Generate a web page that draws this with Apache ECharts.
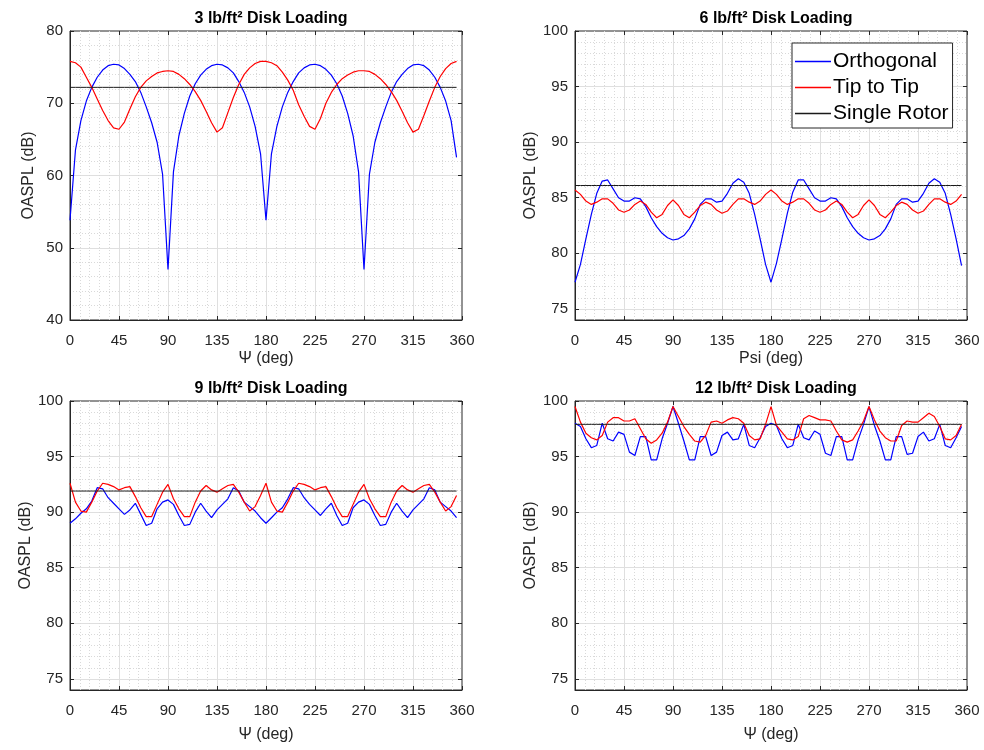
<!DOCTYPE html>
<html>
<head>
<meta charset="utf-8">
<script src="https://cdn.jsdelivr.net/npm/echarts@6/dist/echarts.min.js"></script>
<style>
  html, body { margin: 0; padding: 0; background: #ffffff; }
  #chart { width: 984px; height: 750px; }
</style>
</head>
<body>
<div id="chart"></div>
<script>
// Azimuth angle of the observer (deg)
const psiDeg = [
  0, 5, 10, 15, 20, 25, 30, 35, 40, 45, 50, 55, 60, 65, 70, 75, 80, 85,
  90, 95, 100, 105, 110, 115, 120, 125, 130, 135, 140, 145, 150, 155, 160, 165, 170, 175,
  180, 185, 190, 195, 200, 205, 210, 215, 220, 225, 230, 235, 240, 245, 250, 255, 260, 265,
  270, 275, 280, 285, 290, 295, 300, 305, 310, 315, 320, 325, 330, 335, 340, 345, 350, 355
];

const seriesNames = ['Orthogonal', 'Tip to Tip', 'Single Rotor'];
const panelTitles = ['3 lb/ft² Disk Loading', '6 lb/ft² Disk Loading', '9 lb/ft² Disk Loading', '12 lb/ft² Disk Loading'];
const xAxisNames = ['\u03A8 (deg)', 'Psi (deg)', '\u03A8 (deg)', '\u03A8 (deg)'];
const yAxisName = 'OASPL (dB)';

// OASPL (dB), 3 lb/ft^2
const ortho3 = [
  53.8, 63.5, 67.6, 70.3, 72.2, 73.6, 74.6, 75.2, 75.4, 75.3, 74.8, 74.0, 73.0, 71.5, 69.5, 67.3, 64.6, 60.2,
  47.0, 60.5, 65.5, 68.6, 71.0, 72.7, 73.9, 74.7, 75.2, 75.4, 75.3, 74.9, 74.2, 73.0, 71.5, 69.5, 66.8, 63.0,
  53.8, 63.0, 66.8, 69.5, 71.5, 73.0, 74.2, 74.9, 75.3, 75.4, 75.2, 74.7, 73.9, 72.7, 71.0, 68.6, 65.5, 60.5,
  47.0, 60.2, 64.6, 67.3, 69.5, 71.5, 73.0, 74.0, 74.8, 75.3, 75.4, 75.2, 74.6, 73.6, 72.2, 70.3, 67.6, 62.5
];
const tip3 = [
  75.8, 75.6, 75.0, 73.6, 72.2, 70.6, 69.0, 67.6, 66.6, 66.4, 67.4, 69.2, 70.9, 72.2, 73.1, 73.7, 74.2, 74.4,
  74.5, 74.4, 74.0, 73.4, 72.6, 71.6, 70.4, 68.9, 67.3, 66.0, 66.6, 68.7, 70.8, 72.6, 74.0, 74.9, 75.5, 75.8,
  75.8, 75.6, 75.2, 74.3, 73.2, 71.8, 69.8, 68.2, 66.8, 66.4, 67.9, 70.0, 71.5, 72.6, 73.4, 73.9, 74.3, 74.5,
  74.5, 74.4, 74.0, 73.4, 72.6, 71.6, 70.4, 68.9, 67.3, 66.0, 66.4, 68.3, 70.3, 72.2, 73.7, 74.8, 75.5, 75.8
];
const single3 = 72.2;

// OASPL (dB), 6 lb/ft^2
const ortho6 = [
  77.4, 79.0, 81.3, 83.5, 85.4, 86.5, 86.6, 85.8, 85.0, 84.7, 84.7, 85.0, 84.9, 84.2, 83.2, 82.4, 81.8, 81.4,
  81.2, 81.3, 81.6, 82.2, 83.1, 84.4, 84.9, 84.9, 84.6, 84.7, 85.4, 86.3, 86.7, 86.4, 85.4, 83.5, 81.3, 79.0,
  77.4, 79.1, 81.3, 83.6, 85.5, 86.6, 86.6, 85.8, 85.0, 84.7, 84.7, 85.0, 84.9, 84.2, 83.2, 82.4, 81.8, 81.4,
  81.2, 81.3, 81.6, 82.2, 83.1, 84.4, 84.9, 84.9, 84.6, 84.7, 85.4, 86.3, 86.7, 86.4, 85.4, 83.5, 81.3, 78.9
];
const tip6 = [
  85.7, 85.3, 84.7, 84.4, 84.6, 84.9, 84.9, 84.5, 83.9, 83.7, 83.9, 84.4, 84.7, 84.4, 83.7, 83.2, 83.5, 84.3,
  84.8, 84.3, 83.5, 83.2, 83.7, 84.3, 84.6, 84.4, 83.9, 83.6, 83.8, 84.4, 84.9, 84.9, 84.6, 84.4, 84.7, 85.3,
  85.7, 85.3, 84.7, 84.4, 84.6, 84.9, 84.9, 84.5, 83.9, 83.7, 83.9, 84.4, 84.7, 84.4, 83.7, 83.2, 83.5, 84.3,
  84.8, 84.3, 83.5, 83.2, 83.7, 84.3, 84.6, 84.4, 83.9, 83.6, 83.8, 84.4, 84.9, 84.9, 84.6, 84.4, 84.7, 85.3
];
const single6 = 86.1;

// OASPL (dB), 9 lb/ft^2
const ortho9 = [
  89.0, 89.4, 89.9, 90.3, 91.0, 92.2, 92.1, 91.3, 90.8, 90.3, 89.8, 90.2, 90.8, 89.8, 88.8, 89.0, 90.3, 90.9,
  91.1, 90.7, 89.7, 88.8, 88.9, 90.0, 90.8, 90.1, 89.5, 90.2, 90.7, 91.2, 92.2, 91.9, 90.9, 90.5, 90.1, 89.5,
  89.0, 89.5, 90.0, 90.4, 91.2, 92.2, 92.1, 91.3, 90.7, 90.2, 89.7, 90.3, 90.8, 89.7, 88.8, 89.0, 90.4, 90.9,
  91.1, 90.7, 89.7, 88.8, 88.9, 90.0, 90.8, 90.1, 89.5, 90.2, 90.7, 91.2, 92.2, 92.0, 90.9, 90.5, 90.1, 89.5
];
const tip9 = [
  92.6, 90.9, 90.1, 90.0, 90.9, 91.9, 92.6, 92.5, 92.3, 92.0, 92.2, 92.3, 91.4, 90.4, 89.6, 89.6, 90.7, 91.8,
  92.5, 91.2, 90.3, 89.6, 89.6, 90.9, 91.9, 92.4, 92.0, 91.8, 92.1, 92.4, 92.5, 91.8, 90.9, 90.1, 90.5, 91.5,
  92.6, 90.9, 90.1, 90.0, 90.9, 91.9, 92.6, 92.5, 92.3, 92.0, 92.2, 92.3, 91.4, 90.4, 89.6, 89.6, 90.7, 91.8,
  92.5, 91.2, 90.3, 89.6, 89.6, 90.9, 91.9, 92.4, 92.0, 91.8, 92.1, 92.4, 92.5, 91.8, 90.9, 90.1, 90.5, 91.5
];
const single9 = 91.9;

// OASPL (dB), 12 lb/ft^2
const ortho12 = [
  98.0, 97.7, 96.6, 95.8, 96.0, 98.0, 96.6, 96.4, 97.2, 97.0, 95.4, 95.1, 96.8, 96.8, 94.7, 94.7, 96.6, 98.0,
  99.5, 98.0, 96.4, 94.7, 94.7, 96.8, 96.8, 95.1, 95.4, 96.9, 97.2, 96.5, 96.6, 97.9, 96.0, 95.8, 96.7, 97.7,
  98.0, 97.8, 96.6, 95.8, 96.0, 97.9, 96.7, 96.5, 97.3, 97.0, 95.3, 95.1, 96.8, 96.8, 94.7, 94.7, 96.5, 97.9,
  99.5, 97.8, 96.4, 94.7, 94.7, 96.8, 96.8, 95.2, 95.3, 96.8, 97.2, 96.4, 96.6, 97.9, 96.0, 95.8, 96.7, 97.7
];
const tip12 = [
  99.5, 98.1, 97.1, 96.7, 96.5, 96.9, 98.1, 98.5, 98.5, 98.2, 98.2, 98.4, 97.5, 96.6, 96.2, 96.5, 97.1, 98.1,
  99.5, 98.6, 97.7, 97.0, 96.4, 96.3, 96.9, 98.1, 98.2, 98.0, 98.3, 98.5, 98.4, 98.0, 96.9, 96.5, 96.6, 97.9,
  99.5, 97.8, 97.2, 96.6, 96.5, 96.8, 98.4, 98.7, 98.5, 98.3, 98.3, 98.2, 97.3, 96.5, 96.3, 96.5, 97.3, 98.2,
  99.5, 98.3, 97.3, 96.7, 96.4, 96.4, 97.8, 98.2, 98.1, 98.1, 98.5, 98.9, 98.6, 97.7, 96.6, 96.5, 96.9, 97.9
];
const single12 = 97.9;

// Axis ranges
const xRange = { min: 0, max: 360, step: 45 };
const yRange3 = { min: 40, max: 80, step: 10 };
const yRangeHigh = { min: 74, max: 100, step: 5 };   // panels 6, 9, 12 lb/ft^2

// ---- styling ----
const FONT = "'Liberation Sans', Arial, Helvetica, sans-serif";
const INK = '#262626';
const MAJOR_GRID = '#dfdfdf';
const MINOR_GRID = '#d9d9d9';
const COLORS = ['#0000ff', '#ff0000', '#1a1a1a'];

const grids = [
  { left: 70,  top: 31,  width: 392, height: 289 },
  { left: 575, top: 31,  width: 392, height: 289 },
  { left: 70,  top: 401, width: 392, height: 289 },
  { left: 575, top: 401, width: 392, height: 289 }
];
const xNameGap = [31, 31, 37, 37];
const TICK = { show: true, inside: true, length: 4, lineStyle: { color: INK } };

function pairs(ys) { return psiDeg.map((x, i) => [x, ys[i]]); }
function flat(v) { return psiDeg.map(x => [x, v]); }

const xAxes = [];
grids.forEach((g, gi) => {
  xAxes.push({
    type: 'value', gridIndex: gi, position: 'bottom',
    min: xRange.min, max: xRange.max, interval: xRange.step,
    name: xAxisNames[gi], nameLocation: 'middle', nameGap: xNameGap[gi],
    nameTextStyle: { fontSize: 16, color: INK, fontFamily: FONT },
    axisLine: { show: true, onZero: false, lineStyle: { color: INK, width: 1 } },
    axisTick: TICK,
    axisLabel: { fontSize: 15, color: INK, margin: 13, fontFamily: FONT },
    splitLine: { show: true, showMinLine: false, showMaxLine: false, lineStyle: { color: MAJOR_GRID, width: 1 } },
    minorTick: { show: false, splitNumber: 5 },
    minorSplitLine: { show: true, lineStyle: { color: MINOR_GRID, width: 1, type: [1, 2] } }
  });
});
// tick marks along the top edge of each box
grids.forEach((g, gi) => {
  xAxes.push({
    type: 'value', gridIndex: gi, position: 'top',
    min: xRange.min, max: xRange.max, interval: xRange.step,
    axisLine: { show: false, onZero: false }, axisTick: TICK,
    axisLabel: { show: false }, splitLine: { show: false }
  });
});

const yAxes = [];
const dataAxisIndex = [];
// 3 lb/ft^2 panel: plain axis with 10 dB majors and 2 dB minors
dataAxisIndex.push(yAxes.length);
yAxes.push({
  type: 'value', gridIndex: 0, position: 'left',
  min: yRange3.min, max: yRange3.max, interval: yRange3.step,
  name: yAxisName, nameLocation: 'middle', nameGap: 33,
  nameTextStyle: { fontSize: 16, color: INK, fontFamily: FONT },
  axisLine: { show: true, onZero: false, lineStyle: { color: INK, width: 1 } },
  axisTick: TICK,
  axisLabel: { fontSize: 15, color: INK, margin: 7, fontFamily: FONT },
  splitLine: { show: true, showMinLine: false, showMaxLine: false, lineStyle: { color: MAJOR_GRID, width: 1 } },
  minorTick: { show: false, splitNumber: 5 },
  minorSplitLine: { show: true, lineStyle: { color: MINOR_GRID, width: 1, type: [1, 2] } }
});
yAxes.push({
  type: 'value', gridIndex: 0, position: 'right',
  min: yRange3.min, max: yRange3.max, interval: yRange3.step,
  axisLine: { show: false, onZero: false }, axisTick: TICK,
  axisLabel: { show: false }, splitLine: { show: false }
});
// Other panels: the axis starts at 74 dB, so the 1 dB minor grid and the
// 5 dB labelled grid live on overlaid axes sharing the same extent.
const span = yRangeHigh.max - yRangeHigh.min;
for (let gi = 1; gi < 4; gi++) {
  dataAxisIndex.push(yAxes.length);
  yAxes.push({
    type: 'value', gridIndex: gi, position: 'left', offset: 0,
    min: yRangeHigh.min, max: yRangeHigh.max, interval: 1,
    axisLine: { show: false, onZero: false }, axisTick: { show: false }, axisLabel: { show: false },
    splitLine: { show: true, showMinLine: false, showMaxLine: false,
                 lineStyle: { color: MINOR_GRID, width: 1, type: [1, 2] } }
  });
  yAxes.push({
    type: 'value', gridIndex: gi, position: 'left', offset: 0, inverse: true,
    min: 0, max: span, interval: yRangeHigh.step,
    name: yAxisName, nameLocation: 'middle', nameGap: 33,
    nameTextStyle: { fontSize: 16, color: INK, fontFamily: FONT },
    axisLine: { show: true, onZero: false, lineStyle: { color: INK, width: 1 } },
    axisTick: TICK,
    axisLabel: {
      fontSize: 15, color: INK, margin: 7, fontFamily: FONT,
      formatter: v => (v > span - 1 ? '' : String(yRangeHigh.max - v))
    },
    splitLine: { show: true, showMinLine: false, showMaxLine: false, lineStyle: { color: MAJOR_GRID, width: 1 } }
  });
  yAxes.push({
    type: 'value', gridIndex: gi, position: 'right', offset: 0, inverse: true,
    min: 0, max: span, interval: yRangeHigh.step,
    axisLine: { show: false, onZero: false }, axisTick: TICK,
    axisLabel: { show: false }, splitLine: { show: false }
  });
}

const panelData = [
  [ortho3, tip3, single3],
  [ortho6, tip6, single6],
  [ortho9, tip9, single9],
  [ortho12, tip12, single12]
];

const series = [];
panelData.forEach((pd, gi) => {
  pd.forEach((vals, k) => {
    series.push({
      name: seriesNames[k], type: 'line',
      xAxisIndex: gi, yAxisIndex: dataAxisIndex[gi],
      data: k === 2 ? flat(vals) : pairs(vals),
      color: COLORS[k],
      symbol: 'none', showSymbol: false,
      lineStyle: { color: COLORS[k], width: k === 2 ? 1 : 1.2 },
      emphasis: { disabled: true },
      animation: false, z: 3 + k
    });
  });
});

const titles = grids.map((g, gi) => ({
  text: panelTitles[gi],
  left: g.left + g.width / 2, textAlign: 'center',
  top: g.top - 25,
  textStyle: { fontSize: 16, fontWeight: 'bold', color: '#000', fontFamily: FONT }
}));

const chart = echarts.init(document.getElementById('chart'), null, { renderer: 'canvas' });
chart.setOption({
  backgroundColor: '#ffffff',
  animation: false,
  textStyle: { fontFamily: FONT },
  title: titles,
  grid: grids.map(g => Object.assign({
    show: true, borderColor: INK, borderWidth: 1, backgroundColor: '#ffffff',
    containLabel: false, outerBoundsMode: 'none'
  }, g)),
  legend: {
    data: seriesNames,
    orient: 'vertical', left: 792, top: 43,
    backgroundColor: '#ffffff', borderColor: INK, borderWidth: 1,
    padding: [8, 4, 4, 3], itemGap: 5,
    icon: 'rect', itemWidth: 36, itemHeight: 1.5,
    textStyle: { fontSize: 21, color: '#000', fontFamily: FONT, padding: [0, 0, 0, -3] },
    selectedMode: false
  },
  xAxis: xAxes,
  yAxis: yAxes,
  series: series
});
</script>
</body>
</html>
